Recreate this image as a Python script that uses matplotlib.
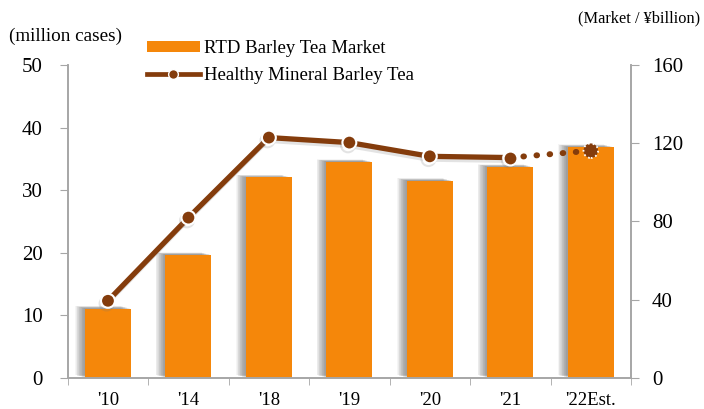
import matplotlib
matplotlib.use("Agg")
import matplotlib.pyplot as plt
import matplotlib.patheffects as pe
from matplotlib.lines import Line2D
from matplotlib.patches import Patch
import numpy as np

plt.rcParams['font.family'] = ['Liberation Serif', 'DejaVu Serif']

years = ["'10", "'14", "'18", "'19", "'20", "'21", "'22Est."]
market = [35.4, 62.9, 102.5, 110.5, 100.8, 107.9, 118.1]   # ¥billion, right axis
cases = [12.3, 25.6, 38.4, 37.6, 35.4, 35.2, 36.3]         # million cases, left axis

orange = '#F5870A'
brown = '#843C0C'
grey = '#A6A6A6'

fig = plt.figure(figsize=(7.04, 4.09), dpi=100)
ax = fig.add_axes([0.0962, 0.0765, 0.8001, 0.7645])
ax2 = ax.twinx()
ax.set_zorder(ax2.get_zorder() + 1)
ax.patch.set_visible(False)

x = np.arange(len(years))

# bars with soft shadow to the left
shadow = [pe.SimplePatchShadow(offset=(-dx, dx * 0.25), shadow_rgbFace='#555555', alpha=0.06)
          for dx in np.arange(1, 7.5, 0.5)]
ax2.bar(x, market, width=0.57, color=orange, zorder=2,
        path_effects=shadow + [pe.Normal()])

# line: solid up to '21, dotted to '22
lshadow = [pe.SimpleLineShadow(offset=(-1, -2), shadow_color='#777777', alpha=0.2), pe.Normal()]
ax.plot(x[:-1], cases[:-1], color=brown, lw=3.8, solid_capstyle='round',
        marker='o', ms=10, mfc=brown, mec='white', mew=1.5, zorder=3,
        path_effects=lshadow)
ax.plot(x[-2:], cases[-2:], color=brown, lw=4.3, linestyle=(0, (0.1, 2.1)),
        dash_capstyle='round', zorder=2)
ax.scatter(x[-1:], cases[-1:], s=110, color=brown, edgecolors='white',
           linewidths=1.3, linestyles=':', zorder=4)
ax.plot(x[-2:-1], cases[-2:-1], 'o', ms=10, mfc=brown, mec='white', mew=1.5, zorder=5)

ax.set_xlim(-0.5, len(years) - 0.5)
ax.set_ylim(0, 50)
ax2.set_ylim(0, 160)
ax.set_yticks(range(0, 51, 10))
ax2.set_yticks(range(0, 161, 40))

ax.set_xticks(x)
ax.set_xticklabels(years, fontsize=13.5)
ax.set_xticks(np.arange(-0.5, len(years)), minor=True)
ax.tick_params(axis='x', which='major', length=0, pad=10)
ax.tick_params(axis='x', which='minor', length=5, color=grey, direction='out')
ax.tick_params(axis='y', length=6, color=grey, labelsize=15, pad=12)
ax2.tick_params(axis='y', length=6, color=grey, labelsize=15, pad=9)

for a in (ax, ax2):
    a.spines['top'].set_visible(False)
    for s in ('left', 'right', 'bottom'):
        a.spines[s].set_color(grey)
        a.spines[s].set_linewidth(1.2)

fig.text(0.013, 0.91, '(million cases)', fontsize=13.8, ha='left', va='center')
fig.text(0.995, 0.956, '(Market / ¥billion)', fontsize=11.8, ha='right', va='center')

handles = [Patch(facecolor=orange, edgecolor='none'),
           Line2D([], [], color=brown, lw=3.4, marker='o', ms=7, mfc=brown, mec='white', mew=1)]
fig.legend(handles, ['RTD Barley Tea Market', 'Healthy Mineral Barley Tea'],
           loc='upper left', bbox_to_anchor=(0.209, 0.901), frameon=False,
           fontsize=13.5, handlelength=2.8, handleheight=0.5, handletextpad=0.22,
           labelspacing=0.5, borderpad=0, borderaxespad=0)

fig.savefig('out.png', dpi=100)
